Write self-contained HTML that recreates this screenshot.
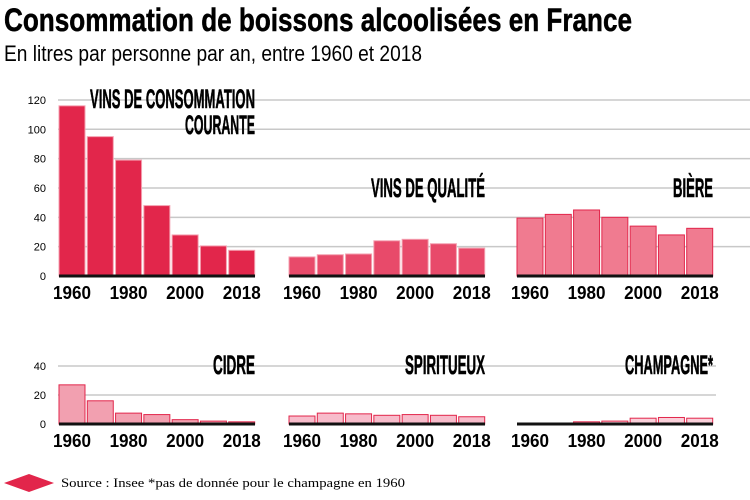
<!DOCTYPE html>
<html><head><meta charset="utf-8"><style>
body{margin:0;background:#fff;width:750px;height:500px;overflow:hidden}
svg{display:block}
</style></head><body>
<svg id="c" width="750" height="500" xmlns="http://www.w3.org/2000/svg">
<text x="4" y="31" font-family="Liberation Sans Narrow, Liberation Sans, sans-serif" font-weight="bold" font-size="32" textLength="628" lengthAdjust="spacingAndGlyphs" stroke="#000" stroke-width="0.5">Consommation de boissons alcoolisées en France</text>
<text x="4" y="61" font-family="Liberation Sans Narrow, Liberation Sans, sans-serif" font-size="22" textLength="418" lengthAdjust="spacingAndGlyphs">En litres par personne par an, entre 1960 et 2018</text>
<polygon points="4,483 29,474 54,483 29,492" fill="#e2264b"/>
<text x="61" y="487" font-family="Liberation Serif, serif" font-size="12.5" textLength="344" lengthAdjust="spacingAndGlyphs">Source : Insee *pas de donnée pour le champagne en 1960</text>
</svg>
<script>
const years = [1960,1970,1980,1990,2000,2010,2018];
const xTickLabels = ["1960","1980","2000","2018"];
const xTickIdx = [0,2,4,6];
const topTicks = [0,20,40,60,80,100,120];
const bottomTicks = [0,20,40];
const vinsCourants = [116,95,79,48,28,20.5,17.5];
const vinsQualite = [13,14.5,15,24,25,22,19];
const biere = [39.5,42,45,40,34,28,32.5];
const cidre = [27,16,7.5,6.5,3,2,1.5];
const spiritueux = [5.5,7.5,7,6,6.5,6,5];
const champagne = [0,0.5,1.5,2,4,4.5,4];

const svg = document.getElementById('c');
const NS = 'http://www.w3.org/2000/svg';
function mk(tag, attrs, parent){const e=document.createElementNS(NS,tag);for(const k in attrs)e.setAttribute(k,attrs[k]);(parent||svg).appendChild(e);return e;}

const panelX = [59,289,517];
const panelW = 198;
const pitch = panelW/7;
const barW = pitch-2.3;
const rows = [{zero:276, scale:1.467, ticks:topTicks, gridEnd:750, labY:299},
              {zero:424, scale:1.45, ticks:bottomTicks, gridEnd:716, labY:447}];
function yOf(r,v){return r.zero - v*r.scale;}

rows.forEach((r,ri)=>{
  r.ticks.forEach(t=>{
    if(t>0){const g=mk('line',{x1:58,x2:r.gridEnd,y1:yOf(r,t),y2:yOf(r,t),stroke:'#c8c8c8','stroke-width':1.5});
    
    }
    const tl=mk('text',{x:46,y:yOf(r,t)+4,'text-anchor':'end','font-family':'Liberation Sans, sans-serif','font-size':11});
    tl.textContent=t;
    
    
  });
});

const panels = [
 {row:0,p:0,data:vinsCourants,fill:'#e2264b',stroke:'#f4a0b0',label:['VINS DE CONSOMMATION','COURANTE'],name:'vins-courants'},
 {row:0,p:1,data:vinsQualite,fill:'#e84a6a',stroke:'#f4a0b0',label:['VINS DE QUALITÉ'],name:'vins-qualite'},
 {row:0,p:2,data:biere,fill:'#f07b90',stroke:'#e2264b',label:['BIÈRE'],name:'biere'},
 {row:1,p:0,data:cidre,fill:'#f2a0b0',stroke:'#e2264b',label:['CIDRE'],name:'cidre'},
 {row:1,p:1,data:spiritueux,fill:'#f7bccb',stroke:'#e2264b',label:['SPIRITUEUX'],name:'spiritueux'},
 {row:1,p:2,data:champagne,fill:'#fad0da',stroke:'#e2264b',label:['CHAMPAGNE*'],name:'champagne'}
];
const labelWidths = {'VINS DE CONSOMMATION':165,'COURANTE':70,'VINS DE QUALITÉ':114,'BIÈRE':40,'CIDRE':42,'SPIRITUEUX':80,'CHAMPAGNE*':88};
panels.forEach(pn=>{
  const r=rows[pn.row]; const x0=panelX[pn.p];
  pn.data.forEach((v,i)=>{
    const h=v*r.scale; const x=x0+i*pitch;
    const b=mk('rect',{x:x,y:r.zero-h,width:barW,height:h,fill:pn.fill,stroke:pn.stroke,'stroke-width':1});
    
    
  });
  const ax=mk('line',{x1:x0,x2:x0+panelW-2,y1:r.zero,y2:r.zero,stroke:'#111','stroke-width':3});
  
  
  xTickIdx.forEach((idx,k)=>{
    const t=mk('text',{x:x0+idx*pitch+barW/2,y:r.labY,'text-anchor':'middle','font-family':'Liberation Sans Narrow, Liberation Sans, sans-serif','font-weight':'bold','font-size':18,textLength:38,lengthAdjust:'spacingAndGlyphs'});
    t.textContent=xTickLabels[k];
    
    
  });
  const right=x0+panelW-2;
  const baseY = pn.row===0 ? (pn.p===0?108:197) : 374;
  pn.label.forEach((s,li)=>{
    const w=labelWidths[s];
    const t=mk('text',{x:right-w,y:baseY+li*26,'font-family':'Liberation Sans Narrow, Liberation Sans, sans-serif','font-weight':'bold','font-size':27,textLength:w,lengthAdjust:'spacingAndGlyphs',stroke:'#000','stroke-width':0.6});
    t.textContent=s;
    
    
  });
});
</script>
</body></html>
